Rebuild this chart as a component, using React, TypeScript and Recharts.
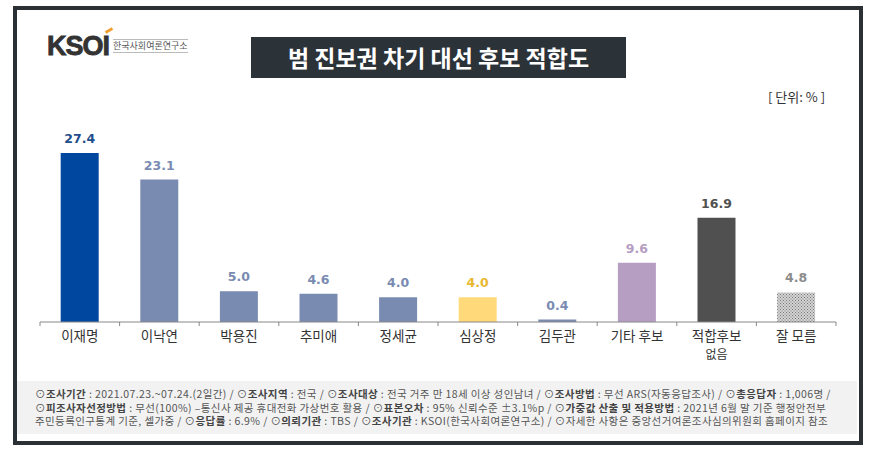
import React from 'react';
import { BarChart, Bar, XAxis, YAxis, Cell, LabelList } from 'recharts';

const candidates = ['이재명', '이낙연', '박용진', '추미애', '정세균', '심상정', '김두관', '기타 후보', '적합후보\n없음', '잘 모름'];
const fitness = [27.4, 23.1, 5.0, 4.6, 4.0, 4.0, 0.4, 9.6, 16.9, 4.8];
const barColors = ['#0047a0', '#7a8bb2', '#7a8bb2', '#7a8bb2', '#7a8bb2', '#ffd97a', '#7a8bb2', '#b59ec1', '#505050', 'url(#hatch)'];
const labelColors = ['#1f4e8c', '#7a8bb2', '#7a8bb2', '#7a8bb2', '#7a8bb2', '#e8b830', '#7a8bb2', '#b59ec1', '#505050', '#8c8c8c'];

const footerLines: [string, string][][] = [
  [['n', '⊙'], ['b', '조사기간'], ['n', ' : 2021.07.23.~07.24.(2일간)  / ⊙'], ['b', '조사지역'], ['n', ' : 전국 / ⊙'], ['b', '조사대상'], ['n', ' : 전국 거주 만 18세 이상 성인남녀 / ⊙'], ['b', '조사방법'], ['n', ' : 무선 ARS(자동응답조사) / ⊙'], ['b', '총응답자'], ['n', ' : 1,006명 /']],
  [['n', '⊙'], ['b', '피조사자선정방법'], ['n', ' : 무선(100%) –통신사 제공 휴대전화 가상번호 활용 / ⊙'], ['b', '표본오차'], ['n', ' : 95% 신뢰수준 ±3.1%p / ⊙'], ['b', '가중값 산출 및 적용방법'], ['n', ' : 2021년 6월 말 기준 행정안전부']],
  [['n', '주민등록인구통계 기준, 셀가중 / ⊙'], ['b', '응답률'], ['n', ' : 6.9% / ⊙'], ['b', '의뢰기관'], ['n', ' : TBS / ⊙'], ['b', '조사기관'], ['n', ' : KSOI(한국사회여론연구소) / ⊙자세한 사항은 중앙선거여론조사심의위원회 홈페이지 참조']],
];

const data = candidates.map((name, i) => ({ name, value: fitness[i] }));

const KR = '"Malgun Gothic", "Noto Sans CJK KR", sans-serif';

function CategoryTick(props: any) {
  const { x, y, payload, index } = props;
  const band = 79.6;
  const lines = String(payload.value).split('\n');
  return (
    <g>
      <line x1={x - band / 2} x2={x - band / 2} y1={y - 8} y2={y - 4} stroke="#888" />
      {index === candidates.length - 1 && (
        <line x1={x + band / 2} x2={x + band / 2} y1={y - 8} y2={y - 4} stroke="#888" />
      )}
      {lines.map((l, i) => (
        <text key={i} x={x} y={y + 11 + i * 17.5} textAnchor="middle" fontFamily={KR} fontSize={i === 0 ? 13.5 : 12} fill="#333">
          {l}
        </text>
      ))}
    </g>
  );
}

function ValueLabel(props: any) {
  const { x, y, width, index, value } = props;
  return (
    <text x={x + width / 2} y={y - 10} textAnchor="middle" fontFamily='"DejaVu Sans", Verdana, sans-serif' fontWeight="bold" fontSize={12.5} fill={labelColors[index]}>
      {Number(value).toFixed(1)}
    </text>
  );
}

export default function App() {
  return (
    <div style={{ position: 'absolute', left: 0, top: 0, width: 871, height: 450, background: '#fff', overflow: 'hidden', fontFamily: KR }}>
      {/* frame */}
      <div style={{ position: 'absolute', left: 13, top: 6, width: 842, height: 431, border: '4px solid #2b3035' }} />

      {/* logo */}
      <div style={{ position: 'absolute', left: 47, top: 31, height: 30, display: 'flex', alignItems: 'center' }}>
        <span style={{ fontFamily: '"Liberation Sans", Arial, sans-serif', fontWeight: 900, fontSize: 27, color: '#333', letterSpacing: -1, WebkitTextStroke: '0.8px #333' }}>
          K<span>SO</span><span style={{ position: 'relative' }}>I<span style={{ position: 'absolute', left: 2, top: -2, width: 8, height: 3, background: '#f0a030', transform: 'rotate(-30deg)' }} /></span>
        </span>
        <span style={{ marginLeft: 4, fontSize: 9, color: '#555', borderTop: '1px solid #bbb', borderBottom: '1px solid #bbb', padding: '1px 0', lineHeight: '10px' }}>한국사회여론연구소</span>
      </div>

      {/* title */}
      <div style={{ position: 'absolute', left: 251, top: 37, width: 375, height: 41, background: '#2b3238', color: '#fff', fontSize: 23, fontWeight: 'bold', textAlign: 'center', lineHeight: '41px' }}>
        범 진보권 차기 대선 후보 적합도
      </div>

      <div style={{ position: 'absolute', left: 768, top: 87, fontSize: 13, color: '#333', whiteSpace: 'pre' }}>[ 단위: % ]</div>

      <div style={{ position: 'absolute', left: 0, top: 0 }}>
        <BarChart width={871} height={450} data={data} margin={{ top: 137, right: 35, left: 40, bottom: 88 }} barCategoryGap="26%">
          <defs>
            <pattern id="hatch" width="3" height="3" patternUnits="userSpaceOnUse">
              <rect width="3" height="3" fill="#d4d4d4" />
              <rect x="0" y="0" width="1" height="1" fill="#777" />
              <rect x="1.5" y="1.5" width="1" height="1" fill="#777" />
            </pattern>
          </defs>
          <XAxis dataKey="name" interval={0} height={40} axisLine={{ stroke: '#888' }} tickLine={false} tick={<CategoryTick />} />
          <YAxis hide domain={[0, 30]} />
          <Bar dataKey="value" isAnimationActive={false}>
            {data.map((d, i) => (
              <Cell key={d.name} fill={barColors[i]} />
            ))}
            <LabelList dataKey="value" content={<ValueLabel />} />
          </Bar>
        </BarChart>
      </div>

      {/* footer */}
      <div style={{ position: 'absolute', left: 17, top: 381, width: 840, height: 53, background: '#f2f2f2' }}>
        <div style={{ padding: '6px 0 0 18px', fontSize: 10.5, lineHeight: '13.5px', color: '#555', whiteSpace: 'nowrap', letterSpacing: 0.4 }}>
          {footerLines.map((line, li) => (
            <div key={li} style={{ height: 13.5 }}>
              {line.map(([t, s], i) => (
                <span key={i} style={t === 'b' ? { fontWeight: 'bold', color: '#444' } : {}}>{s}</span>
              ))}
            </div>
          ))}
        </div>
      </div>
    </div>
  );
}
